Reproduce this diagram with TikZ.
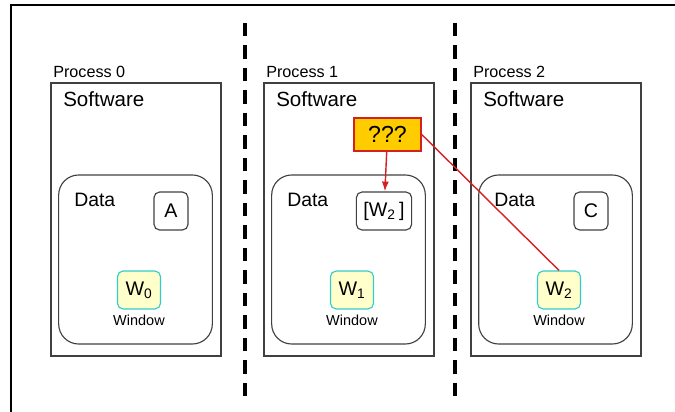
\documentclass[tikz,border=0pt]{standalone}
\usepackage{fontspec}
\setmainfont{Liberation Sans}
\usetikzlibrary{arrows.meta}

\definecolor{winfill}{HTML}{FFFFCC}
\definecolor{winline}{HTML}{33CCCC}
\definecolor{qfill}{HTML}{FFCC00}
\definecolor{qline}{HTML}{D42020}
\definecolor{boxline}{HTML}{404040}

\begin{document}
\begin{tikzpicture}[x=0.025cm,y=-0.025cm,
    procbox/.style={draw=boxline,line width=0.8pt,minimum width=4.25cm,minimum height=6.825cm,inner sep=0pt},
    databox/.style={draw=boxline,line width=0.8pt,rounded corners=0.5cm,minimum width=3.84cm,minimum height=4.225cm,inner sep=0pt},
    valbox/.style={draw=boxline,line width=0.8pt,rounded corners=4pt,minimum width=0.85cm,minimum height=0.95cm,inner xsep=5pt,font=\fontsize{14}{16}\selectfont},
    winbox/.style={draw=winline,fill=winfill,line width=0.8pt,rounded corners=4pt,minimum width=1.075cm,minimum height=0.95cm,font=\fontsize{14}{16}\selectfont},
    qbox/.style={draw=qline,fill=qfill,line width=1pt,minimum width=1.675cm,minimum height=0.825cm,font=\fontsize{16.5}{18}\selectfont},
    qarrow/.style={draw=qline,line width=1pt},
    sep/.style={line width=2.6pt,dash pattern=on 9.5pt off 6.5pt}]
  \useasboundingbox (0,0) rectangle (675,412);
  % frame
  \draw[line width=1pt] (675,5) -- (11,5) -- (11,412);
  % process columns
  \draw[sep] (245,23) -- (245,400);
  \draw[sep] (455,23) -- (455,400);
  \foreach \i/\x/\v in {0/51/A,1/264/{[W\textsubscript{2}\,]},2/471/C} {
    \node[procbox] (proc\i) at (\x+85,219.5) {};
    \node[anchor=base west,inner sep=0pt,font=\fontsize{11.5}{13}\selectfont] (plab\i) at (\x+2,78) {Process \i};
    \node[anchor=base west,inner sep=0pt,font=\fontsize{14.6}{17}\selectfont] (soft\i) at (\x+12,107) {Software};
    \node[databox] (data\i) at (\x+84.5,259.5) {};
    \node[anchor=base west,inner sep=0pt,font=\fontsize{13.8}{16}\selectfont] (dlab\i) at (\x+23,206) {Data};
    \node[valbox] (val\i) at (\x+120,211) {\v};
    \node[winbox] (win\i) at (\x+88,290) {W\textsubscript{\i}};
    \node[anchor=base,inner sep=0pt,font=\fontsize{10.3}{12}\selectfont] (wlab\i) at (\x+88,325) {Window};
  }
  \node[qbox] (unk) at (387.5,134.5) {???};
  \draw[qarrow,-{Latex[length=7pt,width=5pt]}] (unk) -- (val1);
  \draw[qarrow] (unk.east) -- (win2.north);
\end{tikzpicture}
\end{document}
